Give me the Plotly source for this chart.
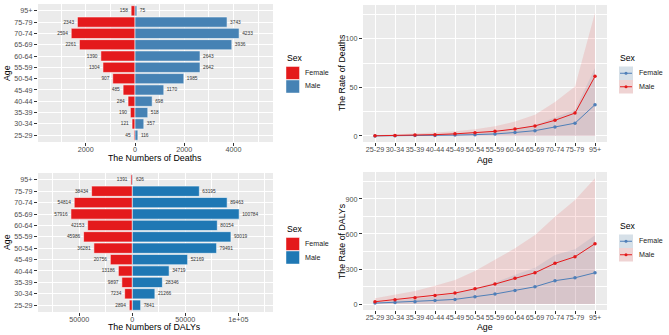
import plotly.graph_objects as go

ages = ["25-29", "30-34", "35-39", "40-44", "45-49", "50-54", "55-59",
        "60-64", "65-69", "70-74", "75-79", "95+"]

deaths_female = [45, 121, 190, 284, 485, 907, 1304, 1390, 2261, 2594, 2343, 158]
deaths_male = [116, 357, 518, 698, 1170, 1985, 2642, 2643, 3936, 4233, 3743, 75]

dalys_female = [2894, 7234, 9897, 13186, 20756, 36281, 45986, 42153, 57916, 54814, 38434, 1391]
dalys_male = [7841, 21266, 28346, 34719, 52169, 79491, 93019, 80154, 100784, 89463, 63195, 626]

death_rate_female = [0.1, 0.2, 0.4, 0.6, 0.9, 1.4, 2.1, 3.6, 5.5, 9.3, 13.2, 32.3]
death_rate_female_upper = [0.3, 0.5, 0.9, 1.3, 2.0, 3.0, 4.5, 7.5, 11.0, 19.0, 27.0, 70.0]
death_rate_female_lower = [0, 0, 0, 0, 0, 0, 0, 0, 0, 0, 0, 0]
death_rate_male = [0.2, 0.5, 0.9, 1.4, 2.2, 3.3, 4.8, 7.2, 10.4, 16.2, 23.6, 61.5]
death_rate_male_upper = [0.8, 1.5, 2.5, 3.5, 5.0, 7.0, 10.0, 15.0, 22.0, 35.0, 51.0, 127.0]
death_rate_male_lower = [0, 0, 0, 0, 0, 0, 0, 0, 0, 0, 0, 0]

daly_rate_female = [8, 14, 20, 31, 40, 63, 86, 117, 148, 200, 225, 268]
daly_rate_female_upper = [18, 30, 45, 65, 88, 135, 185, 250, 310, 420, 470, 590]
daly_rate_female_lower = [0, 0, 0, 0, 0, 0, 0, 0, 0, 0, 0, 0]
daly_rate_male = [20, 37, 54, 74, 94, 131, 171, 220, 268, 349, 405, 517]
daly_rate_male_upper = [49, 77, 111, 157, 206, 283, 377, 477, 591, 748, 891, 1077]
daly_rate_male_lower = [0, 0, 0, 0, 0, 0, 0, 0, 0, 0, 0, 0]

sexes = ["Female", "Male"]

death_ticks = [-2000, 0, 2000, 4000]
death_minor = [-3000, -1000, 1000, 3000, 5000]
daly_ticks = [-50000, 0, 50000, 100000]
daly_tick_text = ["50000", "0", "50000", "1e+05"]
daly_minor = [-75000, -25000, 25000, 75000, 125000]
death_rate_ticks = [0, 50, 100]
death_rate_minor = [25, 75, 125]
daly_rate_ticks = [0, 300, 600, 900]
daly_rate_minor = [150, 450, 750, 1050]

RED = "#E41A1C"
STEEL = "#4682B4"
BLUE2 = "#1F78B4"
LINEBLUE = "#4F7FB8"
RED_FILL = "rgba(228,26,28,0.12)"
BLUE_FILL = "rgba(70,130,180,0.13)"
FONT = "Liberation Sans, Arial, sans-serif"
TICKC = "#4D4D4D"
BAR_EDGE = "rgba(255,255,255,0.55)"
TITLE_SIZE = 8.8

fig = go.Figure()

def bars(female, male, male_color, xa, ya):
    fig.add_trace(go.Bar(
        y=ages, x=[-v for v in female], orientation="h", name="Female",
        marker=dict(color=RED, line=dict(color=BAR_EDGE, width=1)),
        text=[str(v) for v in female], textposition="outside",
        textfont=dict(size=4.8, color="#333333", family=FONT), cliponaxis=False,
        xaxis=xa, yaxis=ya, showlegend=False))
    fig.add_trace(go.Bar(
        y=ages, x=male, orientation="h", name="Male",
        marker=dict(color=male_color, line=dict(color=BAR_EDGE, width=1)),
        text=[str(v) for v in male], textposition="outside",
        textfont=dict(size=4.8, color="#333333", family=FONT), cliponaxis=False,
        xaxis=xa, yaxis=ya, showlegend=False))

bars(deaths_female, deaths_male, STEEL, "x", "y")
bars(dalys_female, dalys_male, BLUE2, "x2", "y2")

def rates(fem, fem_lo, fem_hi, male, male_lo, male_hi, xa, ya):
    fig.add_trace(go.Scatter(
        x=ages + ages[::-1], y=fem_hi + fem_lo[::-1], fill="toself",
        fillcolor=BLUE_FILL, line=dict(width=0), mode="lines",
        showlegend=False, hoverinfo="skip", xaxis=xa, yaxis=ya))
    fig.add_trace(go.Scatter(
        x=ages + ages[::-1], y=male_hi + male_lo[::-1], fill="toself",
        fillcolor=RED_FILL, line=dict(width=0), mode="lines",
        showlegend=False, hoverinfo="skip", xaxis=xa, yaxis=ya))
    fig.add_trace(go.Scatter(
        x=ages, y=fem, mode="lines+markers", name="Female",
        line=dict(color=LINEBLUE, width=1), marker=dict(size=3.5, color=LINEBLUE),
        xaxis=xa, yaxis=ya, showlegend=False))
    fig.add_trace(go.Scatter(
        x=ages, y=male, mode="lines+markers", name="Male",
        line=dict(color=RED, width=1), marker=dict(size=3.5, color=RED),
        xaxis=xa, yaxis=ya, showlegend=False))

rates(death_rate_female, death_rate_female_lower, death_rate_female_upper,
      death_rate_male, death_rate_male_lower, death_rate_male_upper, "x3", "y3")
rates(daly_rate_female, daly_rate_female_lower, daly_rate_female_upper,
      daly_rate_male, daly_rate_male_lower, daly_rate_male_upper, "x4", "y4")

W, H = 669, 335
def dx(a, b):
    return [a / W, b / W]
def dy(top, bottom):
    return [(H - bottom) / H, (H - top) / H]

common = dict(showline=False, zeroline=False, ticks="outside", ticklen=3,
              tickcolor="#333333", tickwidth=0.8, gridcolor="white", gridwidth=1,
              automargin=False,
              tickfont=dict(size=7.2, color=TICKC, family=FONT))
xcommon = dict(common, ticklabelstandoff=-3)

fig.update_layout(
    width=W, height=H, margin=dict(l=0, r=0, t=0, b=0, autoexpand=False),
    paper_bgcolor="white", plot_bgcolor="#EBEBEB",
    barmode="relative", bargap=0.1, showlegend=False,
    font=dict(family=FONT),
    xaxis=dict(domain=dx(38, 273), anchor="y", range=[-3945, 5610],
               tickvals=death_ticks, ticktext=[str(abs(v)) for v in death_ticks],
               minor=dict(tickvals=death_minor, showgrid=True, gridcolor="white",
                          gridwidth=0.5, ticks=""), **xcommon),
    yaxis=dict(domain=dy(4, 142), anchor="x", type="category", categoryorder="array",
               categoryarray=ages, range=[-0.6, 11.6], **common),
    xaxis2=dict(domain=dx(38, 273), anchor="y2", range=[-89000, 132700],
                tickvals=daly_ticks, ticktext=daly_tick_text,
                minor=dict(tickvals=daly_minor, showgrid=True, gridcolor="white",
                           gridwidth=0.5, ticks=""), **xcommon),
    yaxis2=dict(domain=dy(173, 312), anchor="x2", type="category", categoryorder="array",
                categoryarray=ages, range=[-0.6, 11.6], **common),
    xaxis3=dict(domain=dx(363, 607), anchor="y3", type="category", categoryorder="array",
                categoryarray=ages, range=[-0.6, 11.6], tickangle=0, **xcommon),
    yaxis3=dict(domain=dy(5, 142), anchor="x3", range=[-6.2, 135],
                tickvals=death_rate_ticks,
                minor=dict(tickvals=death_rate_minor, showgrid=True, gridcolor="white",
                           gridwidth=0.5, ticks=""), **common),
    xaxis4=dict(domain=dx(363, 607), anchor="y4", type="category", categoryorder="array",
                categoryarray=ages, range=[-0.6, 11.6], tickangle=0, **xcommon),
    yaxis4=dict(domain=dy(172, 310), anchor="x4", range=[-51, 1131],
                tickvals=daly_rate_ticks,
                minor=dict(tickvals=daly_rate_minor, showgrid=True, gridcolor="white",
                           gridwidth=0.5, ticks=""), **common),
)

def ann(text, x, y, size=TITLE_SIZE, angle=0, anchor="center", color="black"):
    fig.add_annotation(text=text, x=x / W, y=(H - y) / H, xref="paper", yref="paper",
                       showarrow=False, textangle=angle,
                       font=dict(size=size, color=color, family=FONT),
                       xanchor=anchor, yanchor="middle")

def rect(x0, y0, x1, y1, fill, line="rgba(0,0,0,0)"):
    fig.add_shape(type="rect", xref="paper", yref="paper",
                  x0=x0 / W, x1=x1 / W, y0=(H - y1) / H, y1=(H - y0) / H,
                  fillcolor=fill, line=dict(color=line, width=0.8), layer="above")

# manual legends (ggplot style keys)
def bar_legend(x, ytitle, male_color):
    ann("Sex", x - 1, ytitle, size=8.6, anchor="left")
    cols = [RED, male_color]
    for i, s in enumerate(sexes):
        top = ytitle + 8.5 + i * 13.5
        rect(x, top, x + 13.5, top + 13, cols[i], BAR_EDGE)
        ann(s, x + 16.5, top + 6.5, size=7.1, anchor="left", color="#1A1A1A")

def line_legend(x, ytitle):
    ann("Sex", x - 1, ytitle, size=8.6, anchor="left")
    cols = [LINEBLUE, RED]
    fills = ["rgba(70,130,180,0.16)", "rgba(228,26,28,0.14)"]
    for i, s in enumerate(sexes):
        top = ytitle + 8.5 + i * 13.5
        rect(x, top, x + 14, top + 13.5, "#F2F2F2")
        rect(x, top, x + 14, top + 13.5, fills[i])
        cy = top + 6.75
        fig.add_shape(type="line", xref="paper", yref="paper",
                      x0=(x + 1) / W, x1=(x + 13) / W, y0=(H - cy) / H, y1=(H - cy) / H,
                      line=dict(color=cols[i], width=1), layer="above")
        fig.add_shape(type="circle", xref="paper", yref="paper",
                      x0=(x + 5.5) / W, x1=(x + 8.5) / W,
                      y0=(H - cy - 1.5) / H, y1=(H - cy + 1.5) / H,
                      fillcolor=cols[i], line=dict(width=0), layer="above")
        ann(s, x + 17.5, cy, size=7.1, anchor="left", color="#1A1A1A")

bar_legend(286, 58, STEEL)
bar_legend(286, 229, BLUE2)
line_legend(619, 58)
line_legend(619, 226)

ann("Age", 7, 73, angle=-90)
ann("The Numbers of Deaths", 154.5, 157.5)
ann("Age", 7, 242, angle=-90)
ann("The Numbers of DALYs", 154.5, 326.5)
ann("The Rate of Deaths", 342, 73, angle=-90)
ann("Age", 485, 159.5)
ann("The Rate of DALYs", 342, 241, angle=-90)
ann("Age", 485, 327)

fig.write_html("out.html", config={"displayModeBar": False},
               post_script="document.body.style.margin='0';document.body.style.padding='0';")
